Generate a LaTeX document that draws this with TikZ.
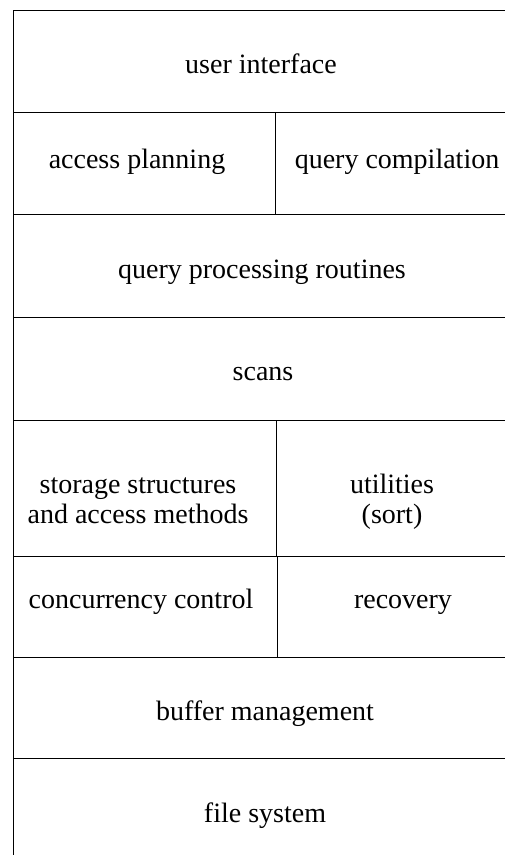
\documentclass[tikz,border=0pt]{standalone}
\usepackage{fontspec}
\setmainfont{Liberation Serif}

\begin{document}
\begin{tikzpicture}[x=1pt,y=-1pt,line width=0.9pt,
  layer/.style={anchor=base,inner sep=0pt,align=center,
    font=\fontsize{28}{30}\selectfont}]
\useasboundingbox (0,0) rectangle (504,855);
% ---------- frame and layer rules ----------
\draw (510,10) -- (13,10) -- (13,870);
\foreach \y in {112,214,317,420,556,657,758}
  \draw (13,\y) -- (510,\y);
% vertical dividers
\draw (275,112) -- (275,214);
\draw (276,420) -- (276,556);
\draw (277,556) -- (277,657);
% ---------- layer names ----------
\node[layer] (ui) at (261,73) {user interface};
\node[layer] (ap) at (137,168) {access planning};
\node[layer] (qc) at (397,168) {query compilation};
\node[layer] (qp) at (262,278) {query processing routines};
\node[layer] (sc) at (263,380) {scans};
% two-line names sit on their last baseline
\node[layer] (ss) at (138,523) {storage structures\\and access methods};
\node[layer] (ut) at (392,523) {utilities\\(sort)};
\node[layer] (cc) at (141,608) {concurrency control};
\node[layer] (rc) at (403,608) {recovery};
\node[layer] (bm) at (265,720) {buffer management};
\node[layer] (fs) at (265,822) {file system};
\end{tikzpicture}
\end{document}
